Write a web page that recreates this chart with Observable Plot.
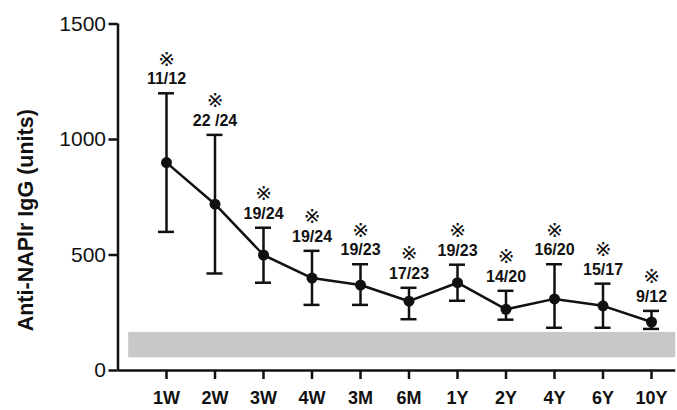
<!DOCTYPE html>
<html>
<head>
<meta charset="utf-8">
<script src="https://cdn.jsdelivr.net/npm/d3@7"></script>
<script src="https://cdn.jsdelivr.net/npm/@observablehq/plot@0.6"></script>
<style>
  body { margin: 0; background: #fff; }
  svg { font-family: "Liberation Sans", Arial, sans-serif; }
</style>
</head>
<body>
<div id="chart"></div>
<script>
const labels = ["1W","2W","3W","4W","3M","6M","1Y","2Y","4Y","6Y","10Y"];
const means  = [900, 720, 500, 400, 370, 300, 380, 265, 310, 280, 210];
const upper  = [1200, 1020, 618, 518, 460, 358, 458, 345, 460, 376, 258];
const lower  = [600, 420, 380, 284, 284, 222, 302, 220, 185, 185, 180];
const ratios = ["11/12","22 /24","19/24","19/24","19/23","17/23","19/23","14/20","16/20","15/17","9/12"];
const normalRange = [55, 165];
const yTicks = [0, 500, 1000, 1500];

const data = labels.map((l, i) => ({i, label: l, mean: means[i], up: upper[i], lo: lower[i], ratio: ratios[i]}));
const capHalf = 0.165;
const ink = "#111";

const chart = Plot.plot({
  width: 677,
  height: 410,
  marginLeft: 117.5,
  marginRight: 1.75,
  marginTop: 23.5,
  marginBottom: 40,
  x: {domain: [-1, 10.5]},
  y: {domain: [0, 1500]},
  marks: [
    Plot.rect([normalRange], {x1: -0.78, x2: 10.5, y1: d => d[0], y2: d => d[1], fill: "#c8c8c8"}),
    Plot.ruleX(data, {x: "i", y1: "lo", y2: "up", stroke: ink, strokeWidth: 2.5}),
    Plot.ruleY(data, {y: "up", x1: d => d.i - capHalf, x2: d => d.i + capHalf, stroke: ink, strokeWidth: 2.5}),
    Plot.ruleY(data, {y: "lo", x1: d => d.i - capHalf, x2: d => d.i + capHalf, stroke: ink, strokeWidth: 2.5}),
    Plot.line(data, {x: "i", y: "mean", stroke: ink, strokeWidth: 2.5}),
    Plot.dot(data, {x: "i", y: "mean", r: 5.5, fill: ink, stroke: "none"}),
    Plot.text(data, {x: "i", y: "up", text: "ratio", dy: -14, fill: ink, fontSize: 16, fontWeight: "bold"}),
    Plot.text(data, {x: "i", y: "up", text: () => "\u203B", dy: -34, fill: ink, fontSize: 20, fontFamily: "DejaVu Sans"}),
    Plot.ruleX([-1], {y1: 0, y2: 1500, stroke: ink, strokeWidth: 2.5}),
    Plot.ruleY([0], {x1: -1, x2: 10.5, stroke: ink, strokeWidth: 2.5}),
    Plot.axisY({ticks: yTicks, tickFormat: d => String(d), tickSize: 9, tickPadding: 3, strokeWidth: 2.5, fontSize: 21, label: null, fill: ink, stroke: ink}),
    Plot.axisX({ticks: d3.range(labels.length), tickFormat: i => labels[i], tickSize: 9, tickPadding: 12, strokeWidth: 2.5, fontSize: 18, fontWeight: "bold", label: null, fill: ink, stroke: ink}),
    Plot.text(["Anti-NAPlr IgG (units)"], {frameAnchor: "left", text: d => d, rotate: -90, textAnchor: "middle", dx: -92, dy: 23, fontSize: 21.5, fontWeight: "bold", fill: ink})
  ]
});
document.getElementById("chart").appendChild(chart);
</script>
</body>
</html>
